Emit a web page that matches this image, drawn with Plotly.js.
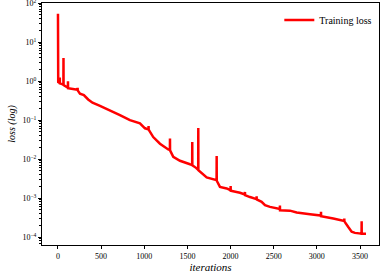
<!DOCTYPE html>
<html>
<head>
<meta charset="utf-8">
<script src="https://cdn.plot.ly/plotly-3.0.1.min.js"></script>
<style>
  html, body { margin: 0; padding: 0; background: #fff; }
  #plot { width: 381px; height: 273px; }
</style>
</head>
<body>
<div id="plot"></div>
<script>
// iterations and training loss
var iterations = [0, 3, 20, 21, 22, 63, 64, 65, 115, 116, 117, 227, 228, 229, 255, 300, 350, 400,
  487, 603, 718, 834, 950, 1008, 1049, 1050, 1051, 1104, 1182, 1278, 1297, 1298, 1299, 1336,
  1414, 1530, 1555, 1556, 1557, 1600, 1625, 1626, 1627, 1723, 1800, 1838, 1839, 1840, 1877,
  1955, 2000, 2001, 2002, 2109, 2166, 2167, 2168, 2225, 2301, 2302, 2303, 2360, 2399, 2457,
  2553, 2571, 2572, 2573, 2688, 2766, 2920, 3047, 3048, 3049, 3190, 3306, 3317, 3318, 3319,
  3364, 3403, 3441, 3518, 3519, 3520, 3569];
var trainingLoss = [54, 0.95, 0.90, 1.24, 0.88, 0.82, 3.95, 0.80, 0.68, 1.0, 0.66, 0.60, 0.68, 0.58,
  0.48, 0.44, 0.34, 0.28, 0.234, 0.18, 0.135, 0.10, 0.083, 0.062, 0.058, 0.071, 0.057, 0.037,
  0.025, 0.0178, 0.0172, 0.034, 0.0168, 0.0115, 0.0091, 0.0074, 0.0071, 0.0275, 0.0070, 0.0060,
  0.0053, 0.063, 0.0052, 0.0034, 0.0030, 0.0029, 0.012, 0.0028, 0.00195, 0.00178, 0.00160,
  0.00204, 0.00155, 0.00138, 0.00125, 0.00145, 0.0012, 0.00107, 0.00095, 0.00112, 0.00093,
  0.00081, 0.00066, 0.00060, 0.00056, 0.00053, 0.00065, 0.00049, 0.00048, 0.00043, 0.00039,
  0.00036, 0.00045, 0.000347, 0.00030, 0.000263, 0.00026, 0.0003, 0.000255, 0.000182,
  0.000138, 0.000129, 0.000123, 0.000257, 0.000123, 0.000123];

var xTicks = [0, 500, 1000, 1500, 2000, 2500, 3000, 3500];
var yTicks = [1e-4, 1e-3, 1e-2, 1e-1, 1, 10, 100];
var yTickText = ['10<sup>\u22124</sup>', '10<sup>\u22123</sup>', '10<sup>\u22122</sup>',
  '10<sup>\u22121</sup>', '10<sup>0</sup>', '10<sup>1</sup>', '10<sup>2</sup>'];

var serif = 'Liberation Serif, DejaVu Serif, serif';

var trace = {
  x: iterations,
  y: trainingLoss,
  type: 'scatter',
  mode: 'lines',
  name: 'Training loss',
  line: { color: '#ff0000', width: 2.5 }
};

var layout = {
  width: 381,
  height: 273,
  margin: { l: 42, r: 2, t: 3, b: 28 },
  paper_bgcolor: '#fff',
  plot_bgcolor: '#fff',
  font: { family: serif, size: 8, color: '#000' },
  showlegend: true,
  legend: {
    x: 0.995, y: 0.99, xanchor: 'right', yanchor: 'top',
    bgcolor: 'rgba(255,255,255,0)',
    font: { family: serif, size: 10 },
    itemwidth: 30
  },
  xaxis: {
    range: [-185, 3720],
    tickvals: xTicks,
    ticks: 'outside', ticklen: 3, tickwidth: 1, tickcolor: '#000',
    showline: true, linecolor: '#000', linewidth: 1, mirror: true,
    showgrid: false, zeroline: false,
    ticklabeloverflow: 'allow',
    title: { text: '<i>iterations</i>', font: { family: serif, size: 11 }, standoff: 2 }
  },
  yaxis: {
    type: 'log',
    range: [-4.2, 2.005],
    tickvals: yTicks,
    ticktext: yTickText,
    ticks: 'outside', ticklen: 3, tickwidth: 1, tickcolor: '#000',
    minor: { ticks: 'outside', ticklen: 2, tickcolor: '#000', dtick: 'D1', showgrid: false },
    showline: true, linecolor: '#000', linewidth: 1, mirror: true,
    showgrid: false, zeroline: false,
    ticklabeloverflow: 'allow',
    title: { text: '<i>loss (log)</i>', font: { family: serif, size: 10 }, standoff: 4 }
  }
};

Plotly.newPlot('plot', [trace], layout, { displayModeBar: false, staticPlot: true });
</script>
</body>
</html>
